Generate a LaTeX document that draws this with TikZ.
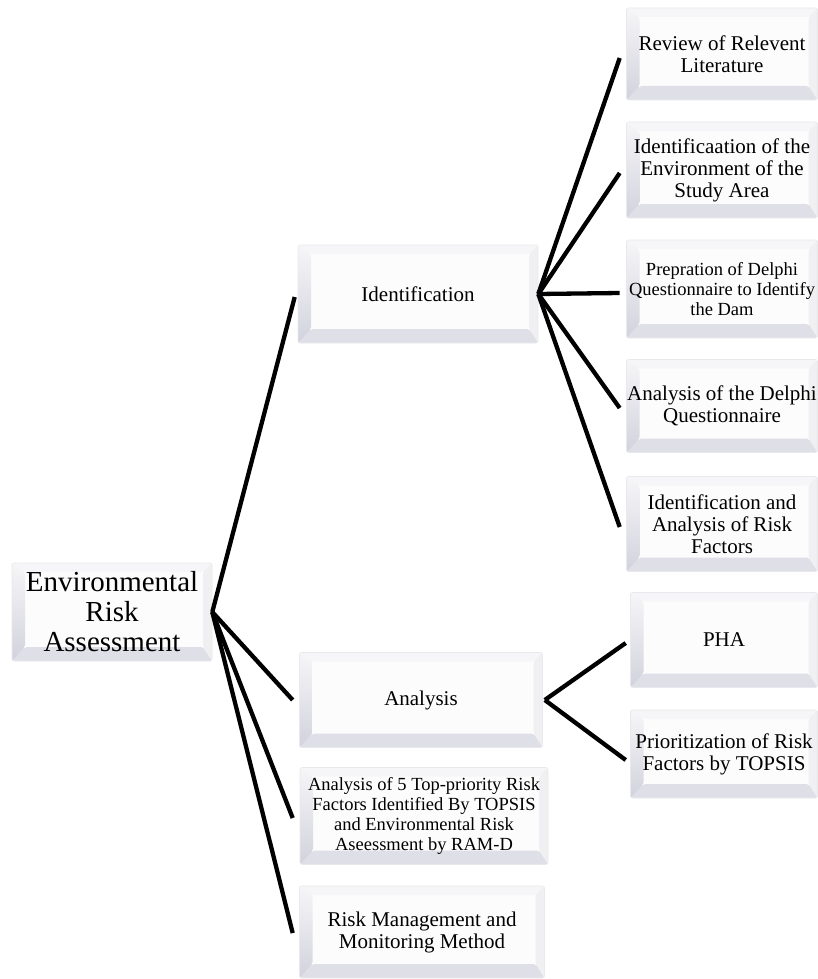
\documentclass[tikz,border=0pt]{standalone}
\usepackage{fontspec}
\setmainfont{Liberation Serif}
\definecolor{bvface}{HTML}{FCFCFD}
\definecolor{bvtop}{HTML}{F6F6F8}
\definecolor{bvright}{HTML}{F0F0F3}
\definecolor{bvbot}{HTML}{DFDFE7}
\definecolor{bvleft}{HTML}{D2D2DD}
\definecolor{bvline}{HTML}{E9E9ED}
\tikzset{
  bevelbox/.style={
    draw=bvline, line width=0.6pt, fill=bvface, rounded corners=2pt,
    inner sep=0pt, align=center, font=\fontsize{21}{22}\selectfont,
    path picture={
      \coordinate (pA) at (path picture bounding box.north west);
      \coordinate (pB) at (path picture bounding box.north east);
      \coordinate (pC) at (path picture bounding box.south east);
      \coordinate (pD) at (path picture bounding box.south west);
      \coordinate (qA) at ([xshift=13pt,yshift=-9pt]pA);
      \coordinate (qB) at ([xshift=-9pt,yshift=-9pt]pB);
      \coordinate (qC) at ([xshift=-9pt,yshift=14pt]pC);
      \coordinate (qD) at ([xshift=13pt,yshift=14pt]pD);
      \fill[bvtop] (pA) -- (pB) -- (qB) -- (qA) -- cycle;
      \fill[bvright] (pB) -- (pC) -- (qC) -- (qB) -- cycle;
      \fill[bvbot] (pC) -- (pD) -- (qD) -- (qC) -- cycle;
      \shade[top color=bvtop, bottom color=bvleft] (pA) -- (pD) -- (qD) -- (qA) -- cycle;
    }
  },
  rootfont/.style={font=\fontsize{29}{30}\selectfont},
  smallfont/.style={font=\fontsize{18.5}{19.7}\selectfont},
  conn/.style={draw=black, line width=4.3pt}
}
\begin{document}
\begin{tikzpicture}[x=1pt,y=-1pt]
\useasboundingbox (0,0) rectangle (817,979);
\fill[white] (0,0) rectangle (817,979);

\node[bevelbox, rootfont, minimum width=200pt, minimum height=98pt] (root) at (112,612) {Environmental\\Risk\\Assessment};

\node[bevelbox, minimum width=240pt, minimum height=98pt] (ident) at (418,294) {Identification};
\node[bevelbox, minimum width=243pt, minimum height=95pt] (analysis) at (421,700) {Analysis};
\node[bevelbox, smallfont, minimum width=248pt, minimum height=97pt] (top5) at (424,816) {Analysis of 5 Top-priority Risk\\Factors Identified By TOPSIS\\and Environmental Risk\\Aseessment by RAM-D};
\node[bevelbox, minimum width=245pt, minimum height=92pt] (risk) at (422,932) {Risk Management and\\Monitoring Method};

\node[bevelbox, minimum width=191pt, minimum height=92pt] (review) at (722,54) {Review of Relevent\\Literature};
\node[bevelbox, minimum width=191pt, minimum height=96pt] (envarea) at (722,170) {Identificaation of the\\Environment of the\\Study Area};
\node[bevelbox, smallfont, minimum width=191pt, minimum height=98pt] (prep) at (722,289) {Prepration of Delphi\\Questionnaire to Identify\\the Dam};
\node[bevelbox, minimum width=191pt, minimum height=93pt] (delphi) at (722,406) {Analysis of the Delphi\\Questionnaire};
\node[bevelbox, minimum width=191pt, minimum height=95pt] (factors) at (722,524) {Identification and\\Analysis of Risk\\Factors};
\node[bevelbox, minimum width=187pt, minimum height=95pt] (pha) at (724,640) {PHA};
\node[bevelbox, minimum width=187pt, minimum height=88pt] (topsis) at (724,754) {Prioritization of Risk\\Factors by TOPSIS};

\draw[conn] (root.east) -- ([xshift=-3pt,yshift=-3pt]ident.west);
\draw[conn] (root.east) -- ([xshift=-6.5pt]analysis.west);
\draw[conn] (root.east) -- ([xshift=-7pt,yshift=-2pt]top5.west);
\draw[conn] (root.east) -- ([xshift=-6.5pt,yshift=-1pt]risk.west);

\draw[conn] (ident.east) -- ([xshift=-6.5pt,yshift=-4pt]review.west);
\draw[conn] (ident.east) -- ([xshift=-6.5pt,yshift=-3pt]envarea.west);
\draw[conn] (ident.east) -- ([xshift=-6.5pt,yshift=-4pt]prep.west);
\draw[conn] (ident.east) -- ([xshift=-6.5pt,yshift=-2pt]delphi.west);
\draw[conn] (ident.east) -- ([xshift=-6.5pt,yshift=-3pt]factors.west);

\draw[conn] ([xshift=2pt]analysis.east) -- ([xshift=-4.5pt,yshift=-3pt]pha.west);
\draw[conn] ([xshift=2pt]analysis.east) -- ([xshift=-4.5pt,yshift=-6pt]topsis.west);
\end{tikzpicture}
\end{document}
